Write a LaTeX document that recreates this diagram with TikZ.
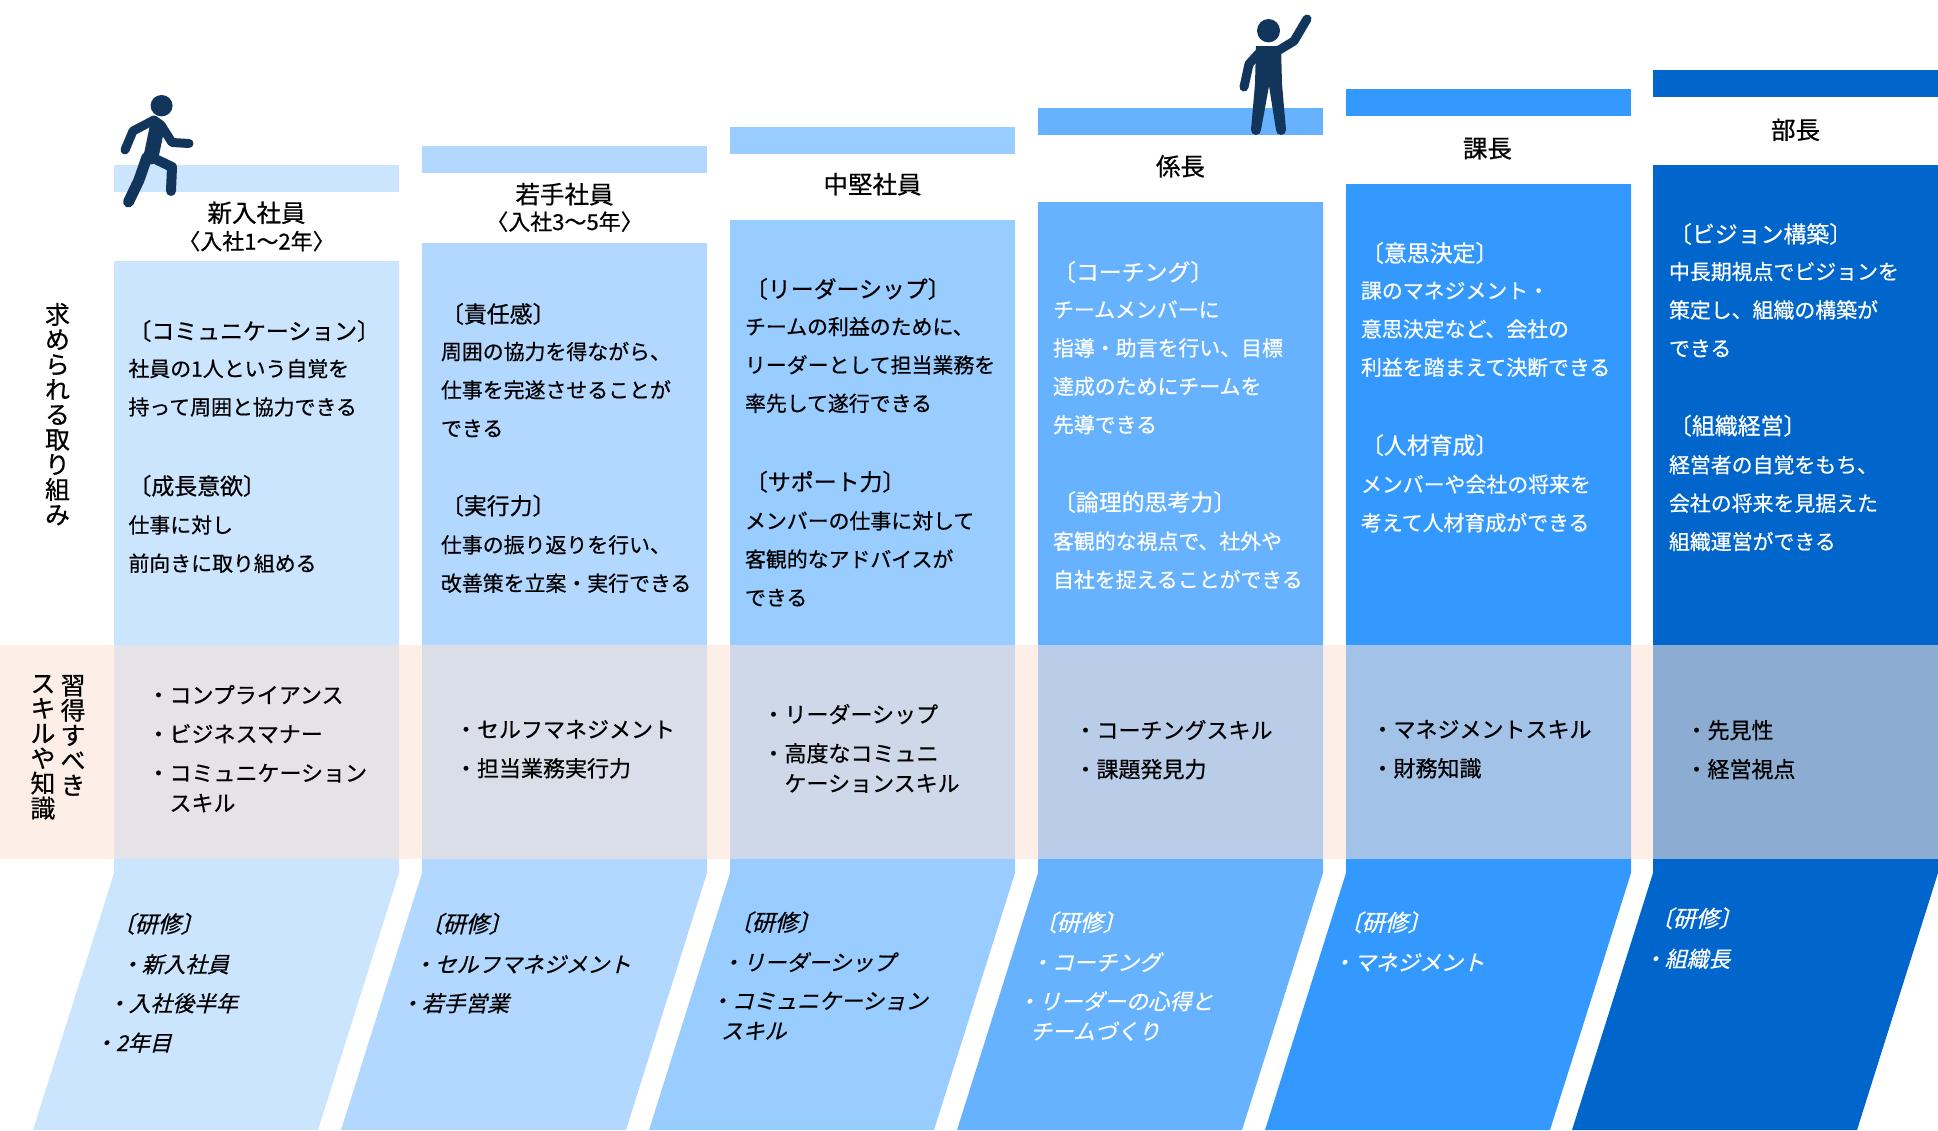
\documentclass[tikz,border=0pt]{standalone}
\usepackage{fontspec}
\newfontfamily\jpfont[FakeBold=0.6]{Noto Sans CJK JP}
\newfontfamily\jpslant[FakeBold=0.6,FakeSlant=0.25]{Noto Sans CJK JP}
\newcommand{\headtext}[1]{{\fontsize{22.9}{38.35}\selectfont #1}}
\definecolor{stepA}{HTML}{CCE5FF}
\definecolor{stepB}{HTML}{B2D8FF}
\definecolor{stepC}{HTML}{99CCFF}
\definecolor{stepD}{HTML}{66B2FF}
\definecolor{stepE}{HTML}{3399FF}
\definecolor{stepF}{HTML}{0066CC}
\definecolor{bandcol}{HTML}{FBE3D6}
\definecolor{figcol}{HTML}{12355B}
\tikzset{
  every node/.style={inner sep=0pt, outer sep=0pt},
  titletext/.style={anchor=center, text height=19pt, text depth=4pt,
    font=\jpfont\fontsize{24.5}{26}\selectfont},
  subtext/.style={anchor=center, text height=17pt, text depth=3pt,
    font=\jpfont\fontsize{22}{24}\selectfont},
  bodytext/.style={anchor=north west, align=left,
    font=\jpfont\fontsize{20.9}{38.35}\selectfont},
  skilltext/.style={anchor=north west, align=left,
    font=\jpfont\fontsize{22}{39}\selectfont},
  sidetext/.style={anchor=north, align=center,
    font=\jpfont\fontsize{24.8}{25}\selectfont},
  coursetext/.style={anchor=west, text height=17pt, text depth=4pt,
    font=\jpslant\fontsize{21.8}{30}\selectfont},
  limb/.style={draw=figcol, line cap=round, line join=round, line width=#1}
}

\begin{document}
\begin{tikzpicture}[x=1pt, y=-1pt]
  \useasboundingbox (0,0) rectangle (1938,1130);

  % steps: left edge / bar top / body top / colour
  \foreach \sx/\sbar/\stop/\scol in {114/165/261/stepA, 422/146/243/stepB,
      730/127/220/stepC, 1038/108/202/stepD, 1346/89/184/stepE, 1653/70/165/stepF} {
    \fill[\scol] (\sx,\sbar) rectangle ++(285,27);
    \fill[\scol] (\sx,\stop) -- ++(285,0) -- (\sx+285,873) -- (\sx+204,1130)
      -- (\sx-81,1130) -- (\sx,873) -- cycle;
  }

  % skill band
  \fill[bandcol, opacity=.56] (0,645) rectangle (1938,859);

  % titles
  \node[titletext] (title1) at (256.5,214.5) {新入社員};
  \node[subtext] (sub1) at (256.5,242.5) {〈入社1〜2年〉};
  \node[titletext] (title2) at (564.5,196) {若手社員};
  \node[subtext] (sub2) at (564.5,223) {〈入社3〜5年〉};
  \node[titletext] (title3) at (872.5,186) {中堅社員};
  \node[titletext] (title4) at (1180.5,168) {係長};
  \node[titletext] (title5) at (1487.5,150) {課長};
  \node[titletext] (title6) at (1795.5,131.5) {部長};

  % side labels
  \node[sidetext] (sideA) at (57.5,303) {求\\め\\ら\\れ\\る\\取\\り\\組\\み};
  \node[sidetext] (sideB) at (73,675) {習\\得\\す\\べ\\き};
  \node[sidetext] (sideC) at (43,675) {ス\\キ\\ル\\や\\知\\識};

  % what is asked of each step
  \node[bodytext] (body1) at (128.5,320) {\headtext{〔コミュニケーション〕}\\[-1.5pt]
    社員の1人という自覚を\\持って周囲と協力できる\\\mbox{}\\[3pt]
    \headtext{〔成長意欲〕}\\仕事に対し\\前向きに取り組める};
  \node[bodytext] (body2) at (441,303) {\headtext{〔責任感〕}\\[-1.5pt]
    周囲の協力を得ながら、\\仕事を完遂させることが\\できる\\\mbox{}\\[1.5pt]
    \headtext{〔実行力〕}\\仕事の振り返りを行い、\\改善策を立案・実行できる};
  \node[bodytext] (body3) at (745,278) {\headtext{〔リーダーシップ〕}\\[-1.5pt]
    チームの利益のために、\\リーダーとして担当業務を\\率先して遂行できる\\\mbox{}\\[2.5pt]
    \headtext{〔サポート力〕}\\メンバーの仕事に対して\\客観的なアドバイスが\\できる};
  \node[bodytext, text=white] (body4) at (1053,261) {\headtext{〔コーチング〕}\\[-1.5pt]
    チームメンバーに\\指導・助言を行い、目標\\達成のためにチームを\\先導できる\\\mbox{}\\[1.5pt]
    \headtext{〔論理的思考力〕}\\客観的な視点で、社外や\\自社を捉えることができる};
  \node[bodytext, text=white] (body5) at (1361,242) {\headtext{〔意思決定〕}\\[-1.5pt]
    課のマネジメント・\\意思決定など、会社の\\利益を踏まえて決断できる\\\mbox{}\\[2pt]
    \headtext{〔人材育成〕}\\メンバーや会社の将来を\\考えて人材育成ができる};
  \node[bodytext, text=white] (body6) at (1669,223) {\headtext{〔ビジョン構築〕}\\[-1.5pt]
    中長期視点でビジョンを\\策定し、組織の構築が\\できる\\\mbox{}\\[1.5pt]
    \headtext{〔組織経営〕}\\経営者の自覚をもち、\\会社の将来を見据えた\\組織運営ができる};

  % skills
  \node[skilltext] (skill1) at (147.5,685) {・コンプライアンス\\・ビジネスマナー\\
    ・コミュニケーション\\[-9pt]\hspace*{1em}スキル};
  \node[skilltext] (skill2) at (455,720) {・セルフマネジメント\\・担当業務実行力};
  \node[skilltext] (skill3) at (762.5,704) {・リーダーシップ\\・高度なコミュニ\\[-9pt]\hspace*{1em}ケーションスキル};
  \node[skilltext] (skill4) at (1074.5,720) {・コーチングスキル\\・課題発見力};
  \node[skilltext] (skill5) at (1371.5,720) {・マネジメントスキル\\・財務知識};
  \node[skilltext] (skill6) at (1685.5,720) {・先見性\\・経営視点};

  % training, one node per line since the lines follow the slant
  \node[coursetext] (tr1a) at (112,926) {\headtext{〔研修〕}};
  \node[coursetext] (tr1b) at (120,966) {・新入社員};
  \node[coursetext] (tr1c) at (107,1005) {・入社後半年};
  \node[coursetext] (tr1d) at (94,1044.5) {・2年目};
  \node[coursetext] (tr2a) at (420,926) {\headtext{〔研修〕}};
  \node[coursetext] (tr2b) at (413,966) {・セルフマネジメント};
  \node[coursetext] (tr2c) at (400,1005) {・若手営業};
  \node[coursetext] (tr3a) at (729,924.5) {\headtext{〔研修〕}};
  \node[coursetext] (tr3b) at (721,964) {・リーダーシップ};
  \node[coursetext] (tr3c) at (710,1002.5) {・コミュニケーション};
  \node[coursetext] (tr3d) at (721,1032.5) {スキル};
  \begin{scope}[every node/.append style={text=white}]
    \node[coursetext] (tr4a) at (1034,924.5) {\headtext{〔研修〕}};
    \node[coursetext] (tr4b) at (1030,964) {・コーチング};
    \node[coursetext] (tr4c) at (1017,1003) {・リーダーの心得と};
    \node[coursetext] (tr4d) at (1030,1033) {チームづくり};
    \node[coursetext] (tr5a) at (1339,924.5) {\headtext{〔研修〕}};
    \node[coursetext] (tr5b) at (1332,964) {・マネジメント};
    \node[coursetext] (tr6a) at (1650,920.5) {\headtext{〔研修〕}};
    \node[coursetext] (tr6b) at (1643,960.5) {・組織長};
  \end{scope}

  % walking figure
  \fill[figcol] (161.6,105.7) ellipse (11 and 10.7);
  \draw[limb=9pt] (125,150) -- (133,131) -- (154,120) -- (161,125) -- (172,142.5) -- (189,143.5);
  \draw[limb=15pt] (157,128) -- (151,157);
  \draw[limb=10pt] (151,157) -- (172,167) -- (171,191);
  \draw[limb=11pt] (147,157) -- (139,180) -- (128.5,202);

  % waving figure
  \fill[figcol] (1268.5,30.7) ellipse (11.5 and 11.7);
  \draw[limb=9pt] (1307,19) -- (1294,41) -- (1276,52);
  \draw[limb=9pt] (1260,52) -- (1249,64) -- (1244,87);
  \fill[figcol] (1256,46) -- (1281,46) -- (1282,84) -- (1286,130) -- (1276,130)
    -- (1269,86) -- (1261,130) -- (1251,130) -- (1255,84) -- cycle;
  \draw[limb=10pt] (1256,128) -- (1256,130);
  \draw[limb=10pt] (1281,128) -- (1281,130);
\end{tikzpicture}
\end{document}
